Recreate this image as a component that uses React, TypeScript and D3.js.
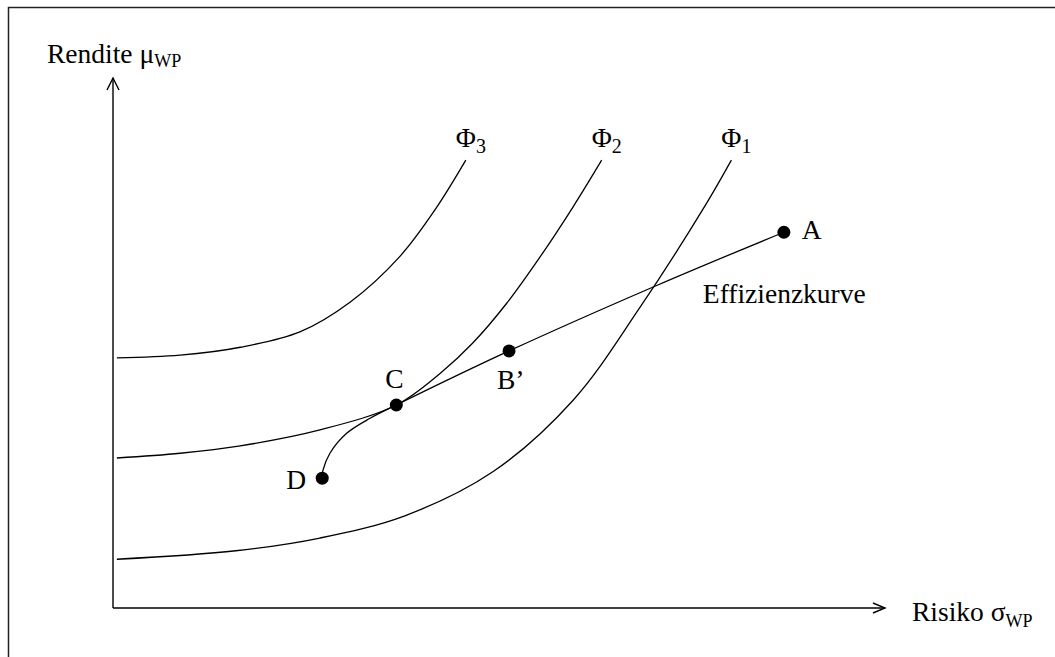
import * as d3 from "d3";

const width = 1055;
const height = 657;

// indifference curves [σ, μ] in chart units
const phi1: [number, number][] = [
  [0.05, 0.92], [1.59, 1.08], [2.68, 1.32], [3.78, 1.74], [4.92, 2.57],
  [5.96, 3.92], [6.83, 5.68], [7.69, 7.64], [8.01, 8.45],
];
const phi2: [number, number][] = [
  [0.05, 2.83], [0.87, 2.92], [1.65, 3.06], [2.68, 3.36], [3.67, 3.83], [4.24, 4.43],
  [4.66, 5.0], [5.1, 5.75], [5.53, 6.62], [5.96, 7.57], [6.33, 8.45],
];
const phi3: [number, number][] = [
  [0.05, 4.72], [0.87, 4.77], [1.65, 4.92], [2.42, 5.21], [3.07, 5.77], [3.72, 6.64],
  [4.17, 7.51], [4.57, 8.45],
];
const curves = [phi1, phi2, phi3];
const curveSubs = ["1", "2", "3"];

// efficient frontier from D through C and B' to A
const frontier: [number, number][] = [
  [2.71, 2.45], [2.72, 2.6], [2.81, 2.92], [3.03, 3.3], [3.33, 3.58], [3.67, 3.83],
  [5.13, 4.85], [7.05, 6.09], [8.69, 7.09],
];

const pointNames = ["A", "B\u2019", "C", "D"];
const pointX = [8.69, 5.13, 3.67, 2.71];
const pointY = [7.09, 4.85, 3.83, 2.45];

const x = d3.scaleLinear().domain([0, 10]).range([113, 885]);
const y = d3.scaleLinear().domain([0, 10]).range([608, 78]);

const line = d3
  .line<[number, number]>()
  .x((d) => x(d[0]))
  .y((d) => y(d[1]))
  .curve(d3.curveCatmullRom.alpha(0.5));

// label offsets in px, per point
const labelDx = [18, -12, -11, -36];
const labelDy = [7, 38, -17, 11];

const font = "'Liberation Serif', 'Times New Roman', serif";
const fs = 27.5;

export default function App() {
  const x0 = x(0);
  const y0 = y(0);
  const xEnd = x(10);
  const yEnd = y(10);
  return (
    <svg
      width={width}
      height={height}
      style={{ position: "absolute", left: 0, top: 0, background: "#fff" }}
      fontFamily={font}
    >
      <rect x={8.5} y={7.5} width={1200} height={800} fill="none" stroke="#222" strokeWidth={1.5} />

      {/* axes */}
      <g stroke="#000" strokeWidth={1.4} fill="none">
        <line x1={x0} y1={y0} x2={x0} y2={yEnd} />
        <path d={`M${x0 - 6},${yEnd + 12}L${x0},${yEnd}L${x0 + 6},${yEnd + 12}`} />
        <line x1={x0} y1={y0} x2={xEnd} y2={y0} />
        <path d={`M${xEnd - 12},${y0 - 5}L${xEnd},${y0}L${xEnd - 12},${y0 + 5}`} />
      </g>

      <text x={47} y={63} fontSize={fs}>
        Rendite μ<tspan dy={4} fontSize={18}>WP</tspan>
      </text>
      <text x={912} y={621} fontSize={fs}>
        Risiko σ<tspan dy={6} fontSize={18}>WP</tspan>
      </text>

      {/* indifference curves and frontier */}
      <g fill="none" stroke="#000" strokeWidth={1.3}>
        {curves.map((c, i) => (
          <path key={i} d={line(c) ?? ""} />
        ))}
        <path d={line(frontier) ?? ""} />
      </g>

      {curves.map((c, i) => {
        const end = c[c.length - 1];
        return (
          <text key={i} x={x(end[0]) - 10} y={y(end[1]) - 13} fontSize={fs}>
            Φ<tspan dy={6} fontSize={20}>{curveSubs[i]}</tspan>
          </text>
        );
      })}

      {pointNames.map((name, i) => (
        <g key={name}>
          <circle cx={x(pointX[i])} cy={y(pointY[i])} r={6.5} fill="#000" />
          <text x={x(pointX[i]) + labelDx[i]} y={y(pointY[i]) + labelDy[i]} fontSize={fs}>
            {name}
          </text>
        </g>
      ))}

      <text x={x(pointX[0]) - 81} y={y(pointY[0]) + 71} fontSize={fs}>
        Effizienzkurve
      </text>
    </svg>
  );
}
